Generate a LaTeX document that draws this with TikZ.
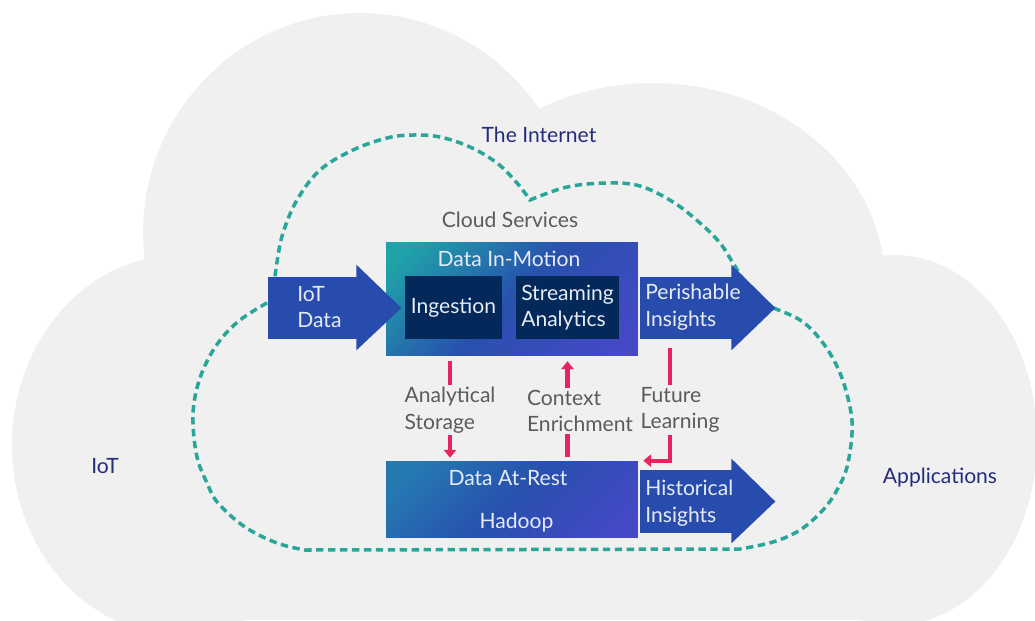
\documentclass[tikz,border=0pt]{standalone}
\usepackage{fontspec}
\setmainfont{Lato}
\usepackage{tikz}
\usetikzlibrary{arrows.meta,calc}

\definecolor{cloudgray}{HTML}{F0F0F0}
\definecolor{netteal}{HTML}{27A699}
\definecolor{arrowblue}{HTML}{284CAE}
\definecolor{navybox}{HTML}{03295A}
\definecolor{gradteal}{HTML}{1FA3A8}
\definecolor{gradsteel}{HTML}{2579B1}
\definecolor{gradmid}{HTML}{2850AE}
\definecolor{gradpurple}{HTML}{4549C6}
\definecolor{flowpink}{HTML}{E8235F}
\definecolor{navytext}{HTML}{262C7C}
\definecolor{flowgray}{HTML}{5B5B5B}
\definecolor{boxwhite}{HTML}{E6EBF5}

\pgfdeclarehorizontalshading{boxshade}{100bp}{color(0bp)=(gradteal); color(20bp)=(gradteal); color(50bp)=(gradmid); color(80bp)=(gradpurple); color(100bp)=(gradpurple)}
\pgfdeclarehorizontalshading{restshade}{100bp}{color(0bp)=(gradsteel); color(22bp)=(gradsteel); color(50bp)=(gradmid); color(80bp)=(gradpurple); color(100bp)=(gradpurple)}

\begin{document}
\begin{tikzpicture}[x=0.02cm,y=0.02cm,
	every node/.style={font=\fontsize{12}{15}\selectfont},
	gradbox/.style={shade,shading=boxshade,shading angle=-45,minimum width=5.04cm,inner sep=0pt},
	darkbox/.style={fill=navybox,text=boxwhite,minimum height=1.26cm,inner sep=0pt},
	arrowbody/.style={fill=arrowblue,minimum height=1.24cm,inner sep=0pt},
	boxtext/.style={text=boxwhite,inner sep=0pt},
	sidetext/.style={text=navytext,inner sep=0pt},
	flowtext/.style={text=flowgray,align=left,inner sep=1pt},
	pinkline/.style={draw=flowpink,line width=2.3pt},
	pinkarrow/.style={pinkline,-{Triangle[length=4.5pt,width=7pt]}},
	netline/.style={draw=netteal,line width=2pt,dash pattern=on 4.2pt off 2.6pt}]
	\useasboundingbox (0,0) rectangle (1035,-620);
	\fill[white] (0,0) rectangle (1035,-620);
	% cloud
	\begin{scope}
		\clip (0,0) rectangle (1035,-620);
		\fill[cloudgray] (360,-233) ellipse [x radius=4.34cm, y radius=4.4cm];
		\fill[cloudgray] (653,-283) ellipse [x radius=4.64cm, y radius=4cm];
		\fill[cloudgray] (895,-440) ellipse [x radius=2.84cm, y radius=3.7cm];
		\fill[cloudgray] (180,-445) ellipse [x radius=3.36cm, y radius=3.8cm];
		\fill[cloudgray] (200,-260) rectangle (890,-620);
	\end{scope}
	% the internet
	\draw[netline] plot[smooth,tension=0.6] coordinates {(272,-300) (277,-262) (283,-233) (297,-200) (320,-170) (353,-150) (387,-138) (413,-135) (440,-137) (470,-147) (497,-163) (517,-183) (530,-200)}
		-- plot[smooth,tension=0.6] coordinates {(530,-200) (567,-187) (607,-183) (640,-186) (673,-202) (700,-223) (720,-243) (733,-263) (750,-290) (765,-305)}
		-- plot[smooth,tension=0.6] coordinates {(765,-305) (800,-320) (823,-343) (840,-373) (850,-407) (852,-433) (847,-467) (837,-490) (823,-510) (800,-530) (773,-542) (740,-549)}
		-- (305,-550)
		-- plot[smooth,tension=0.6] coordinates {(305,-550) (277,-543) (245,-527) (218,-503) (207,-483) (197,-457) (193,-423) (195,-397) (203,-370) (218,-343) (240,-320) (272,-300)};
	\node[sidetext,anchor=base] (internet) at (539,-142) {The Internet};
	\node[text=flowgray,inner sep=0pt,anchor=base] (cloudsrv) at (510,-227) {Cloud Services};
	\node[sidetext,anchor=base] (iot) at (105,-473) {IoT};
	\node[sidetext,anchor=base] (apps) at (940,-483) {Applications};
	% data boxes
	\node[gradbox,minimum height=2.28cm] (dim) at (512,-299) {};
	\node[boxtext,anchor=base] (dimtitle) at (509,-266) {Data In-Motion};
	\node[darkbox,minimum width=1.94cm] (ingest) at (453.5,-307.5) {Ingestion};
	\node[darkbox,minimum width=2.06cm,align=left] (stream) at (567.5,-307.5) {Streaming\\Analytics};
	\node[gradbox,shading=restshade,minimum height=1.52cm] (dar) at (512,-499) {};
	\node[boxtext,anchor=base] (dartitle) at (508,-485) {Data At-Rest};
	\node[boxtext,anchor=base] (hadoop) at (516.5,-528) {Hadoop};
	% block arrows
	\node[arrowbody,minimum width=1.78cm] (iotdata) at (312.5,-308) {};
	\fill[arrowblue] ($(iotdata.north east)+(-1,12)$) -- ($(iotdata.east)+(44,0)$) -- ($(iotdata.south east)+(-1,-11)$) -- cycle;
	\node[boxtext,align=left,anchor=west] (iottext) at (297,-307) {IoT\\Data};
	\node[arrowbody,minimum width=1.84cm] (perish) at (686,-308) {};
	\fill[arrowblue] ($(perish.north east)+(-1,12)$) -- ($(perish.east)+(43,0)$) -- ($(perish.south east)+(-1,-11)$) -- cycle;
	\node[boxtext,align=left,anchor=west] (perishtext) at (645,-307) {Perishable\\Insights};
	\node[arrowbody,minimum width=1.84cm,minimum height=1.26cm] (hist) at (686,-501.5) {};
	\fill[arrowblue] ($(hist.north east)+(-1,11)$) -- ($(hist.east)+(43,0)$) -- ($(hist.south east)+(-1,-10)$) -- cycle;
	\node[boxtext,align=left,anchor=west] (histtext) at (645,-503) {Historical\\Insights};
	% flows
	\node[flowtext] (storage) at (450,-410) {Analytical\\Storage};
	\node[flowtext] (context) at (580,-411) {Context\\Enrichment};
	\node[flowtext] (learning) at (680,-410) {Future\\Learning};
	\coordinate (flx) at (670,0);
	\draw[pinkline,shorten <=2.8pt] (dim.south -| storage) -- (storage.north);
	\draw[pinkarrow,shorten >=1.7pt] (storage.south) -- (dar.north -| storage);
	\draw[pinkline,shorten <=2.3pt] (dar.north -| stream) -- (context.south -| stream);
	\draw[pinkarrow,shorten >=2.8pt] (context.north -| stream) -- (dim.south -| stream);
	\draw[pinkline,shorten <=5pt] (perish.south -| flx) -- (learning.north -| flx);
	\draw[pinkarrow,shorten >=2.8pt] (learning.south -| flx) |- (dar.north east);
\end{tikzpicture}
\end{document}
